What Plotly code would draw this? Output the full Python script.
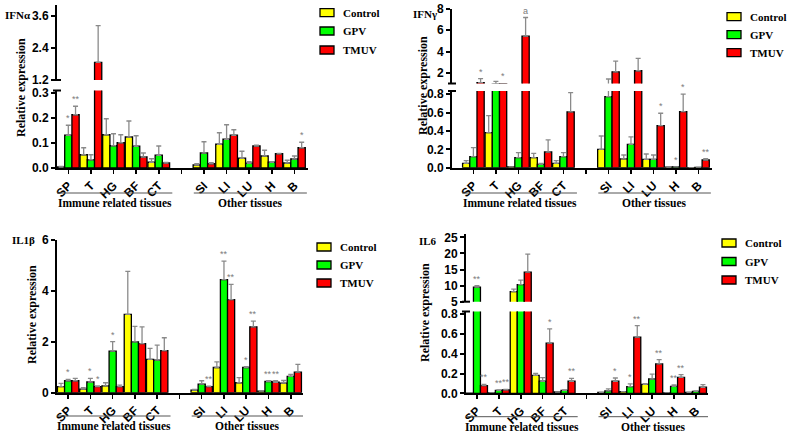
import plotly.graph_objects as go

W, H = 787, 434

# ---------------- data ----------------
tissues = ["SP", "T", "HG", "BF", "CT", "SI", "LI", "LU", "H", "B"]
tissue_pos = [0, 1, 2, 3, 4, 6, 7, 8, 9, 10]
series_names = ["Control", "GPV", "TMUV"]
series_colors = ["#FFFF00", "#00FF00", "#FF0000"]

# IFNα
ifna_control = [0.004, 0.053, 0.133, 0.124, 0.023, 0.012, 0.095, 0.039, 0.048, 0.020]
ifna_control_err = [0.002, 0.028, 0.064, 0.064, 0.014, 0.005, 0.046, 0.028, 0.023, 0.011]
ifna_gpv = [0.131, 0.033, 0.089, 0.087, 0.051, 0.060, 0.115, 0.019, 0.023, 0.036]
ifna_gpv_err = [0.040, 0.020, 0.048, 0.042, 0.037, 0.045, 0.058, 0.006, 0.002, 0.012]
ifna_tmuv = [0.213, 1.86, 0.101, 0.044, 0.020, 0.017, 0.131, 0.088, 0.057, 0.081]
ifna_tmuv_err = [0.034, 1.38, 0.032, 0.016, 0.002, 0.004, 0.022, 0.003, 0.001, 0.022]
ifna_sig = [(0, 1, "*"), (0, 2, "**"), (9, 2, "*")]

# IFNγ
ifng_control = [0.047, 0.382, 0.010, 0.109, 0.047, 0.200, 0.095, 0.091, 0.005, 0.001]
ifng_control_err = [0.029, 0.185, 0.0, 0.047, 0.029, 0.145, 0.043, 0.058, 0.0, 0.0]
ifng_gpv = [0.120, 0.950, 0.109, 0.036, 0.120, 0.774, 0.255, 0.091, 0.008, 0.002]
ifng_gpv_err = [0.098, 0.250, 0.055, 0.011, 0.044, 0.650, 0.080, 0.047, 0.0, 0.0]
ifng_tmuv = [1.08, 0.97, 5.45, 0.171, 0.607, 2.10, 2.20, 0.458, 0.611, 0.084]
ifng_tmuv_err = [0.38, 0.0, 1.75, 0.131, 0.21, 1.00, 1.17, 0.135, 0.19, 0.014]
ifng_sig = [(0, 2, "*"), (1, 2, "*"), (2, 2, "a"), (7, 2, "*"), (8, 1, "*"), (8, 2, "*"), (9, 2, "**")]

# IL1β
il1b_control = [0.235, 0.144, 0.27, 3.08, 1.31, 0.105, 0.99, 0.39, 0.065, 0.38]
il1b_control_err = [0.13, 0.05, 0.12, 1.69, 0.43, 0.025, 0.22, 0.20, 0.01, 0.10]
il1b_gpv = [0.47, 0.42, 1.63, 2.00, 1.28, 0.34, 4.44, 0.99, 0.44, 0.64]
il1b_gpv_err = [0.05, 0.14, 0.38, 0.61, 0.59, 0.13, 0.73, 0.03, 0.03, 0.08]
il1b_tmuv = [0.47, 0.235, 0.235, 1.93, 1.65, 0.235, 3.66, 2.59, 0.41, 0.81]
il1b_tmuv_err = [0.09, 0.035, 0.065, 0.66, 0.51, 0.025, 0.60, 0.22, 0.06, 0.30]
il1b_sig = [(0, 1, "*"), (1, 1, "*"), (1, 2, "*"), (2, 1, "*"), (5, 2, "**"), (6, 1, "**"),
            (6, 2, "**"), (7, 1, "*"), (7, 2, "**"), (8, 1, "**"), (8, 2, "**")]

# IL6
il6_control = [0.002, 0.003, 8.1, 0.182, 0.013, 0.010, 0.017, 0.091, 0.003, 0.010]
il6_control_err = [0.0, 0.0, 0.8, 0.020, 0.0, 0.0, 0.0, 0.007, 0.0, 0.0]
il6_gpv = [9.5, 0.030, 10.3, 0.122, 0.030, 0.024, 0.068, 0.145, 0.071, 0.020]
il6_gpv_err = [0.5, 0.005, 1.4, 0.037, 0.005, 0.020, 0.027, 0.050, 0.013, 0.004]
il6_tmuv = [0.078, 0.034, 14.2, 0.507, 0.122, 0.122, 0.568, 0.297, 0.162, 0.061]
il6_tmuv_err = [0.013, 0.005, 5.6, 0.145, 0.030, 0.033, 0.118, 0.044, 0.027, 0.027]
il6_sig = [(0, 1, "**"), (0, 2, "**"), (1, 1, "**"), (1, 2, "**"), (3, 2, "*"), (4, 2, "**"),
           (5, 2, "*"), (6, 1, "*"), (6, 2, "**"), (7, 2, "**"), (8, 1, "**"), (8, 2, "**")]

group_labels = ["Immune related tissues", "Other tissues"]
panel_titles = ["IFNα", "IFNγ", "IL1β", "IL6"]

# ---------------- layout helpers ----------------
SERIF = "Liberation Serif"
SANS = "Liberation Sans"
BARGAP = 0.04


def fx(px):
    return px / W


def fy(py):
    return 1 - py / H


fig = go.Figure()
layout = dict(
    width=W, height=H, margin=dict(l=0, r=0, t=0, b=0, autoexpand=False),
    paper_bgcolor="white", plot_bgcolor="white",
    barmode="group", bargap=BARGAP, bargroupgap=0,
    showlegend=False, annotations=[], shapes=[], hovermode=False,
)

panels = [
    dict(title=panel_titles[0], vals=[ifna_control, ifna_gpv, ifna_tmuv],
         errs=[ifna_control_err, ifna_gpv_err, ifna_tmuv_err], sig=ifna_sig,
         xpx=(57, 308), xr=[-0.5, 10.6],
         segs=[dict(py=(90.5, 168), r=[0, 0.31], tick0=0, dtick=0.1, fmt=".1f"),
               dict(py=(5.3, 80), r=[1.2, 4.0], tick0=1.2, dtick=1.2, fmt=".1f")],
         title_pos=(3, 15.5), ytitle_pos=(21, 88), legend_px=(320, [12.7, 31, 50]),
         line_py=193, text_py=203),
    dict(title=panel_titles[1], vals=[ifng_control, ifng_gpv, ifng_tmuv],
         errs=[ifng_control_err, ifng_gpv_err, ifng_tmuv_err], sig=ifng_sig,
         xpx=(452, 712), xr=[-0.95, 10.6],
         segs=[dict(py=(91, 167.7), r=[0, 0.835], tick0=0, dtick=0.2, fmt=".1f"),
               dict(py=(9, 83.5), r=[1, 8], tick0=0, dtick=2, fmt="d")],
         title_pos=(411, 14), ytitle_pos=(423, 86), legend_px=(727, [16.7, 34.7, 52.7]),
         line_py=193, text_py=203),
    dict(title=panel_titles[2], vals=[il1b_control, il1b_gpv, il1b_tmuv],
         errs=[il1b_control_err, il1b_gpv_err, il1b_tmuv_err], sig=il1b_sig,
         xpx=(57, 303), xr=[-0.5, 10.55],
         segs=[dict(py=(240, 392.7), r=[0, 6], tick0=0, dtick=2, fmt="d")],
         title_pos=(10, 240), ytitle_pos=(32, 315), legend_px=(317, [247, 265, 283]),
         line_py=416, text_py=426),
    dict(title=panel_titles[3], vals=[il6_control, il6_gpv, il6_tmuv],
         errs=[il6_control_err, il6_gpv_err, il6_tmuv_err], sig=il6_sig,
         xpx=(466, 708), xr=[-0.5, 10.55],
         segs=[dict(py=(311.5, 393.3), r=[0, 0.828], tick0=0, dtick=0.2, fmt=".1f"),
               dict(py=(234.1, 301.7), r=[5, 26], tick0=0, dtick=5, fmt="d")],
         title_pos=(417, 240.7), ytitle_pos=(425, 313), legend_px=(722, [243, 261.5, 280]),
         line_py=416.7, text_py=426.5),
]

tickfont = dict(family=SANS, size=12, color="black", weight="bold")
yidx = 0
for pi, p in enumerate(panels):
    xn = pi + 1
    xname = "xaxis" if xn == 1 else f"xaxis{xn}"
    xref = "x" if xn == 1 else f"x{xn}"
    seg_refs = []
    for si, seg in enumerate(p["segs"]):
        yidx += 1
        yname = "yaxis" if yidx == 1 else f"yaxis{yidx}"
        yref = "y" if yidx == 1 else f"y{yidx}"
        seg_refs.append(yref)
        layout[yname] = dict(
            domain=[fy(seg["py"][1]), fy(seg["py"][0])], range=seg["r"], anchor=xref,
            showline=True, linecolor="black", linewidth=2, mirror=False,
            ticks="outside", ticklen=4, tickwidth=2, tickcolor="black",
            tick0=seg["tick0"], dtick=seg["dtick"], tickformat=seg["fmt"],
            tickfont=tickfont, showgrid=False, zeroline=False, fixedrange=True,
            automargin=False,
        )
        for s in range(3):
            fig.add_trace(go.Bar(
                x=tissue_pos, y=p["vals"][s], name=series_names[s],
                marker=dict(color=series_colors[s], line=dict(color="black", width=1.3)),
                error_y=dict(type="data", array=p["errs"][s], arrayminus=[0] * len(tissues),
                             symmetric=False, color="#8a8a8a", thickness=1.3, width=2.5),
                xaxis=xref, yaxis=yref, showlegend=False,
            ))
        # break marks at the segment ends when the axis is broken
        if len(p["segs"]) > 1:
            edge = seg["py"][0] if si == 0 else seg["py"][1]
            layout["shapes"].append(dict(
                type="line", xref="paper", yref="paper",
                x0=fx(p["xpx"][0] - 4), x1=fx(p["xpx"][0] + 4), y0=fy(edge), y1=fy(edge),
                line=dict(color="black", width=2)))

    layout[xname] = dict(
        domain=[fx(p["xpx"][0]), fx(p["xpx"][1])], range=p["xr"], anchor=seg_refs[0],
        showline=True, linecolor="black", linewidth=2,
        ticks="outside", ticklen=4, tickwidth=1.5, tickcolor="black",
        tickmode="array", tickvals=tissue_pos + [5], ticktext=tissues + [""],
        tickangle=-45, tickfont=tickfont, showgrid=False, zeroline=False, fixedrange=True,
        automargin=False,
    )

    # significance labels
    bottom = p["segs"][0]
    top = p["segs"][1] if len(p["segs"]) > 1 else None
    for (ti, s, lab) in p["sig"]:
        yv = p["vals"][s][ti] + p["errs"][s][ti]
        ref = seg_refs[0]
        if top is not None and yv > bottom["r"][1]:
            ref = seg_refs[1]
            yv = max(yv, top["r"][0])
        xv = tissue_pos[ti] + (s - 1) * (1 - BARGAP) / 3
        layout["annotations"].append(dict(
            x=xv, y=yv, xref=xref, yref=ref, text=lab, showarrow=False,
            yanchor="bottom", xanchor="center", yshift=0,
            font=dict(family=SANS, size=9, color="#7a7a7a")))

    # group underlines and labels
    for (a, b), lab in zip([(-0.5, 4.6), (5.55, 10.55)], group_labels):
        layout["shapes"].append(dict(
            type="line", xref=xref, yref="paper", x0=a, x1=b,
            y0=fy(p["line_py"]), y1=fy(p["line_py"]),
            line=dict(color="#555555", width=1)))
        layout["annotations"].append(dict(
            x=(a + b) / 2, y=fy(p["text_py"]), xref=xref, yref="paper", text=lab,
            showarrow=False, xanchor="center", yanchor="middle",
            font=dict(family=SERIF, size=11.5, color="black", weight="bold")))

    # panel label
    layout["annotations"].append(dict(
        x=fx(p["title_pos"][0]), y=fy(p["title_pos"][1]), xref="paper", yref="paper",
        text=p["title"], showarrow=False, xanchor="left", yanchor="middle",
        font=dict(family=SERIF, size=11, color="black", weight="bold")))
    # y-axis title
    layout["annotations"].append(dict(
        x=fx(p["ytitle_pos"][0]), y=fy(p["ytitle_pos"][1]), xref="paper", yref="paper",
        text="Relative expression", textangle=-90, showarrow=False,
        xanchor="center", yanchor="middle",
        font=dict(family=SERIF, size=12, color="black", weight="bold")))
    # legend (swatches + labels)
    sx, rows = p["legend_px"]
    for s, ry in enumerate(rows):
        layout["shapes"].append(dict(
            type="rect", xref="paper", yref="paper",
            x0=fx(sx), x1=fx(sx + 14), y0=fy(ry + 4), y1=fy(ry - 4),
            fillcolor=series_colors[s], line=dict(color="black", width=1.3)))
        layout["annotations"].append(dict(
            x=fx(sx + 21), y=fy(ry), xref="paper", yref="paper", text=series_names[s],
            showarrow=False, xanchor="left", yanchor="middle",
            font=dict(family=SERIF, size=11, color="black", weight="bold")))

fig.update_layout(**layout)
fig.write_html("out.html", config={"displayModeBar": False, "staticPlot": True},
               post_script="document.body.style.margin='0px';")
